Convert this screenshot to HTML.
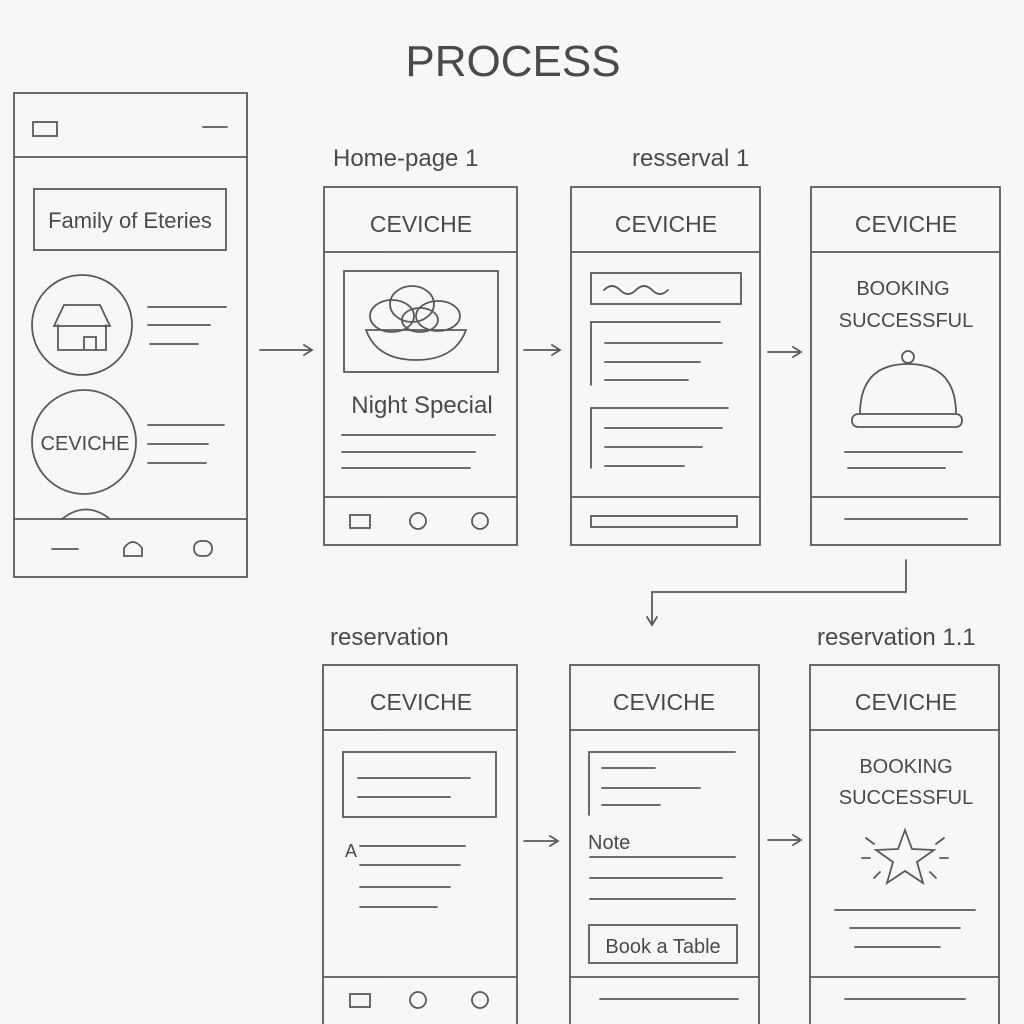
<!DOCTYPE html>
<html><head><meta charset="utf-8"><style>
html,body{margin:0;padding:0;background:#f7f7f5;}
svg{display:block}
text{font-family:"Liberation Sans",sans-serif;fill:#4a4a4a}
</style></head><body>
<svg width="1024" height="1024" viewBox="0 0 1024 1024" xmlns="http://www.w3.org/2000/svg">
<rect width="1024" height="1024" fill="#f7f7f5"/>
<g fill="none" stroke="#5a5a5a" stroke-width="1.8" stroke-linecap="round">
<!-- left phone -->
<rect x="14" y="93" width="233" height="484"/>
<line x1="14" y1="157" x2="247" y2="157"/>
<rect x="33" y="122" width="24" height="14"/>
<line x1="203" y1="127" x2="227" y2="127"/>
<rect x="34" y="189" width="192" height="61"/>
<circle cx="82" cy="325" r="50"/>
<path d="M58 325 L58 350 L106 350 L106 325 M54 326 L64 305 L100 305 L110 326 Z M84 350 L84 337 L96 337 L96 350"/>
<line x1="148" y1="307" x2="226" y2="307"/><line x1="148" y1="325" x2="210" y2="325"/><line x1="150" y1="344" x2="198" y2="344"/>
<circle cx="84" cy="442" r="52"/>
<line x1="148" y1="425" x2="224" y2="425"/><line x1="148" y1="444" x2="208" y2="444"/><line x1="148" y1="463" x2="206" y2="463"/>
<path d="M62 519 Q86 500 110 519"/>
<line x1="14" y1="519" x2="247" y2="519"/>
<line x1="52" y1="549" x2="78" y2="549"/>
<path d="M124 556 L124 548 Q133 536 142 548 L142 556 Z"/>
<rect x="194" y="541" width="18" height="15" rx="7"/>
<!-- arrows row1 -->
<path d="M260 350 L312 350 M304 345 L312 350 L304 355"/>
<path d="M524 350 L560 350 M552 345 L560 350 L552 355"/>
<path d="M768 352 L801 352 M793 347 L801 352 L793 357"/>
<!-- screen 2 -->
<rect x="324" y="187" width="193" height="358"/>
<line x1="324" y1="252" x2="517" y2="252"/>
<rect x="344" y="271" width="154" height="101"/>
<path d="M366 330 L466 330 Q455 360 416 360 Q377 360 366 330 Z"/>
<ellipse cx="392" cy="316" rx="22" ry="16"/><ellipse cx="412" cy="304" rx="22" ry="18"/><ellipse cx="438" cy="316" rx="22" ry="15"/><ellipse cx="420" cy="320" rx="18" ry="12"/>
<line x1="342" y1="435" x2="495" y2="435"/><line x1="342" y1="452" x2="475" y2="452"/><line x1="342" y1="468" x2="470" y2="468"/>
<line x1="324" y1="497" x2="517" y2="497"/>
<rect x="350" y="515" width="20" height="13"/><circle cx="418" cy="521" r="8"/><circle cx="480" cy="521" r="8"/>
<!-- screen 3 -->
<rect x="571" y="187" width="189" height="358"/>
<line x1="571" y1="252" x2="760" y2="252"/>
<rect x="591" y="273" width="150" height="31"/>
<path d="M604 290 q8 -8 16 0 t16 0 t16 0 t16 0"/>
<path d="M720 322 L591 322 L591 385"/>
<line x1="605" y1="343" x2="722" y2="343"/><line x1="605" y1="362" x2="700" y2="362"/><line x1="605" y1="380" x2="688" y2="380"/>
<path d="M728 408 L591 408 L591 468"/>
<line x1="605" y1="428" x2="722" y2="428"/><line x1="605" y1="447" x2="702" y2="447"/><line x1="605" y1="466" x2="684" y2="466"/>
<line x1="571" y1="497" x2="760" y2="497"/>
<rect x="591" y="516" width="146" height="11"/>
<!-- screen 4 -->
<rect x="811" y="187" width="189" height="358"/>
<line x1="811" y1="252" x2="1000" y2="252"/>
<circle cx="908" cy="357" r="6"/>
<path d="M860 414 Q860 364 908 364 Q956 364 956 414"/>
<rect x="852" y="414" width="110" height="13" rx="6"/>
<line x1="845" y1="452" x2="962" y2="452"/><line x1="848" y1="468" x2="945" y2="468"/>
<line x1="811" y1="497" x2="1000" y2="497"/>
<line x1="845" y1="519" x2="967" y2="519"/>
<!-- connector -->
<path d="M906 560 L906 592 L652 592 L652 625 M647 617 L652 625 L657 617"/>
<!-- screen 5 -->
<rect x="323" y="665" width="194" height="360"/>
<line x1="323" y1="730" x2="517" y2="730"/>
<rect x="343" y="752" width="153" height="65"/>
<line x1="358" y1="778" x2="470" y2="778"/><line x1="358" y1="797" x2="450" y2="797"/>
<line x1="360" y1="846" x2="465" y2="846"/><line x1="360" y1="865" x2="460" y2="865"/><line x1="360" y1="887" x2="450" y2="887"/><line x1="360" y1="907" x2="437" y2="907"/>
<line x1="323" y1="977" x2="517" y2="977"/>
<rect x="350" y="994" width="20" height="13"/><circle cx="418" cy="1000" r="8"/><circle cx="480" cy="1000" r="8"/>
<path d="M524 841 L558 841 M550 836 L558 841 L550 846"/>
<!-- screen 6 -->
<rect x="570" y="665" width="189" height="360"/>
<line x1="570" y1="730" x2="759" y2="730"/>
<path d="M735 752 L589 752 L589 815"/>
<line x1="602" y1="768" x2="655" y2="768"/><line x1="602" y1="788" x2="700" y2="788"/><line x1="602" y1="805" x2="660" y2="805"/>
<line x1="590" y1="857" x2="735" y2="857"/><line x1="590" y1="878" x2="722" y2="878"/><line x1="590" y1="899" x2="735" y2="899"/>
<rect x="589" y="925" width="148" height="38"/>
<line x1="570" y1="977" x2="759" y2="977"/>
<line x1="600" y1="999" x2="738" y2="999"/>
<path d="M768 840 L801 840 M793 835 L801 840 L793 845"/>
<!-- screen 7 -->
<rect x="810" y="665" width="189" height="360"/>
<line x1="810" y1="730" x2="999" y2="730"/>
<path d="M905 830 L912 849 L934 850 L917 862 L923 883 L905 871 L887 883 L893 862 L876 850 L898 849 Z"/>
<path d="M866 838 L874 844 M944 838 L936 844 M862 858 L870 858 M940 858 L948 858 M874 878 L880 872 M936 878 L930 872"/>
<line x1="835" y1="910" x2="975" y2="910"/><line x1="850" y1="928" x2="960" y2="928"/><line x1="855" y1="947" x2="940" y2="947"/>
<line x1="810" y1="977" x2="999" y2="977"/>
<line x1="845" y1="999" x2="965" y2="999"/>
</g>
<text x="513" y="76" font-size="44" text-anchor="middle" fill="#555">PROCESS</text>
<text x="130" y="228" font-size="22" text-anchor="middle">Family of Eteries</text>
<text x="85" y="450" font-size="20" text-anchor="middle">CEVICHE</text>
<text x="333" y="166" font-size="24">Home-page 1</text>
<text x="632" y="166" font-size="24">resserval 1</text>
<text x="421" y="232" font-size="23" text-anchor="middle">CEVICHE</text>
<text x="666" y="232" font-size="23" text-anchor="middle">CEVICHE</text>
<text x="906" y="232" font-size="23" text-anchor="middle">CEVICHE</text>
<text x="422" y="413" font-size="24" text-anchor="middle">Night Special</text>
<text x="903" y="295" font-size="20" text-anchor="middle">BOOKING</text>
<text x="906" y="327" font-size="20" text-anchor="middle">SUCCESSFUL</text>
<text x="330" y="645" font-size="24">reservation</text>
<text x="817" y="645" font-size="24">reservation 1.1</text>
<text x="421" y="710" font-size="23" text-anchor="middle">CEVICHE</text>
<text x="664" y="710" font-size="23" text-anchor="middle">CEVICHE</text>
<text x="906" y="710" font-size="23" text-anchor="middle">CEVICHE</text>
<text x="345" y="857" font-size="18">A</text>
<text x="588" y="849" font-size="20">Note</text>
<text x="663" y="953" font-size="20" text-anchor="middle">Book a Table</text>
<text x="906" y="773" font-size="20" text-anchor="middle">BOOKING</text>
<text x="906" y="804" font-size="20" text-anchor="middle">SUCCESSFUL</text>
</svg>
</body></html>
